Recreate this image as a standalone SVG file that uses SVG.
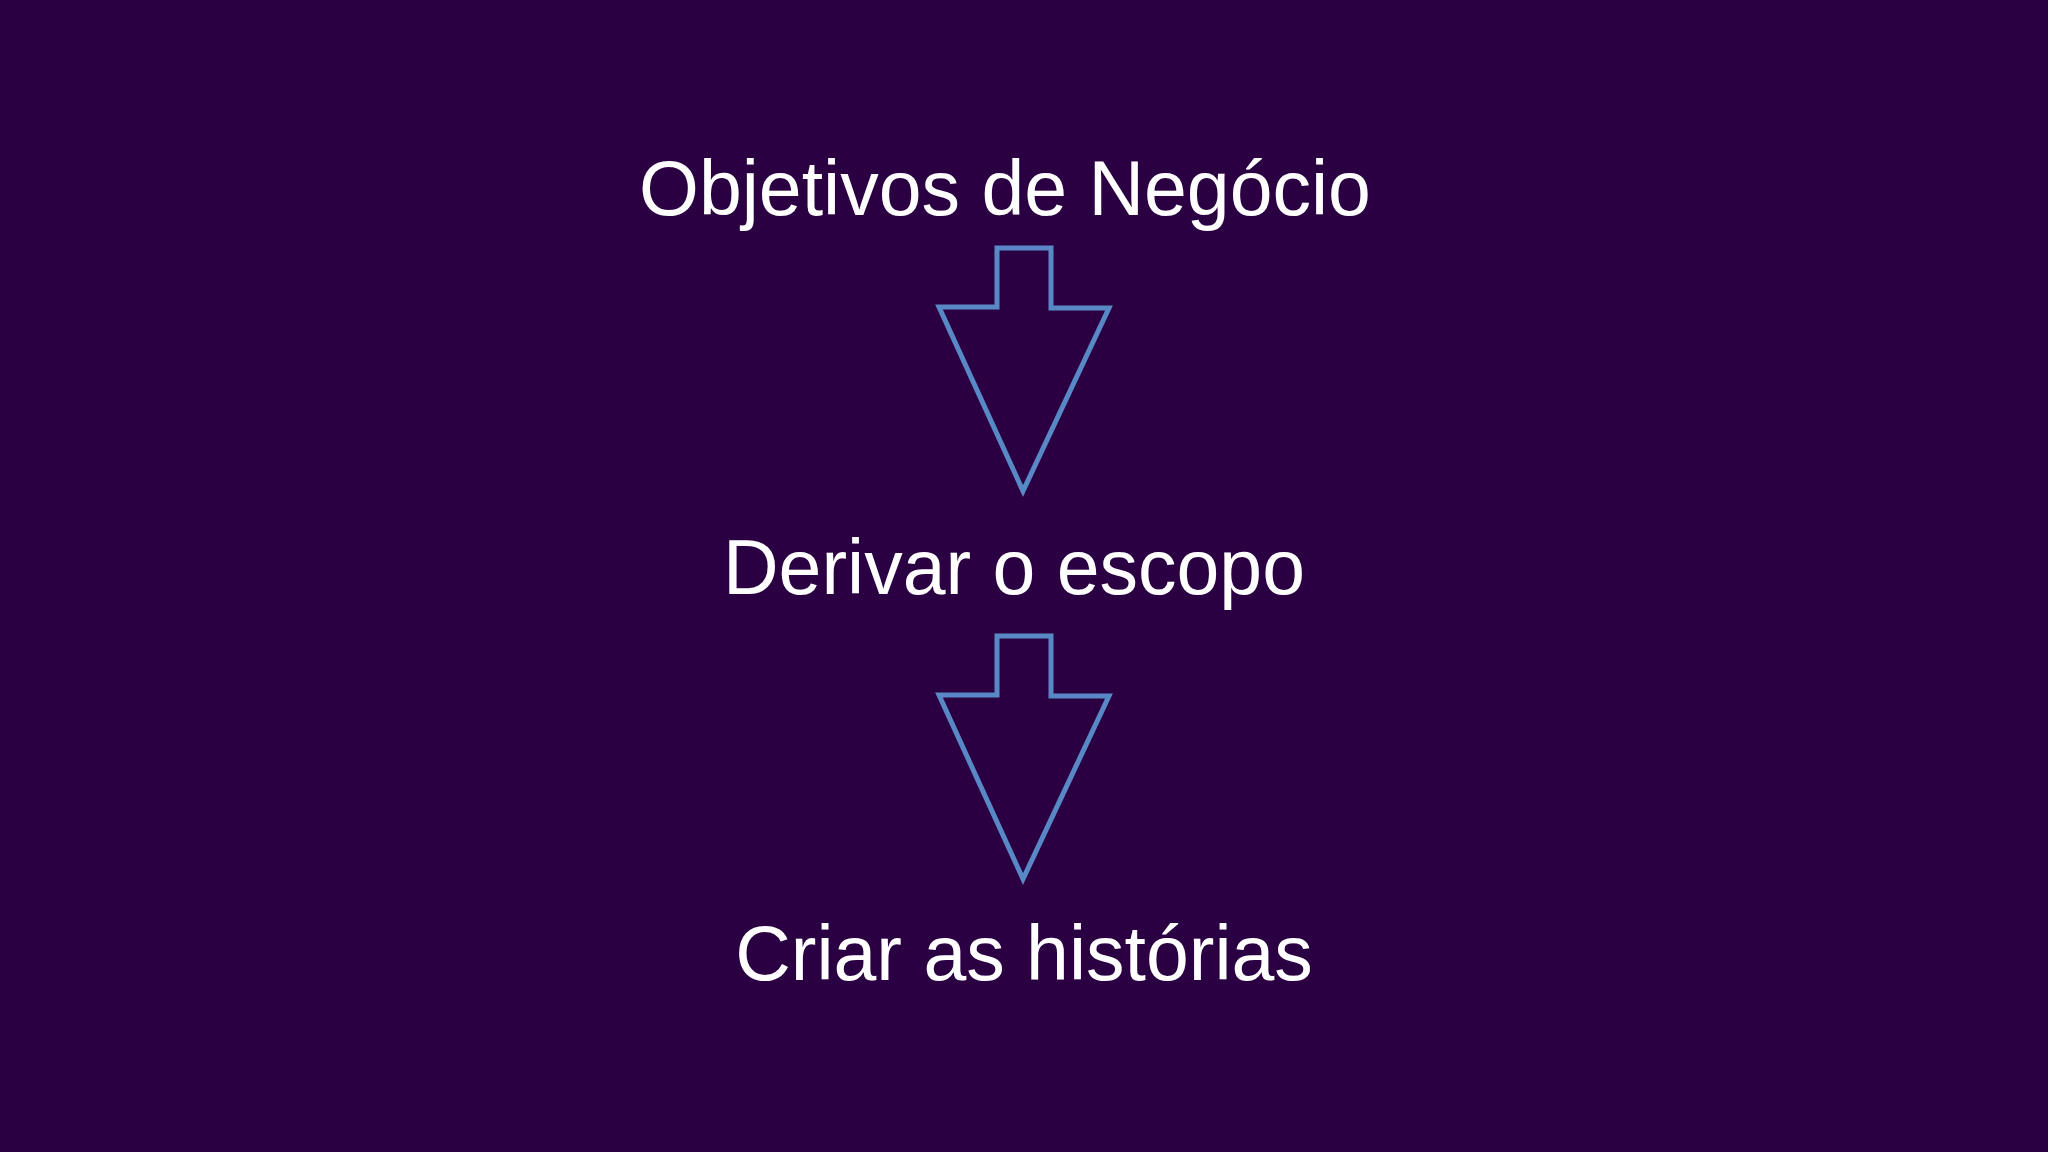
<svg xmlns="http://www.w3.org/2000/svg" width="2048" height="1152" viewBox="0 0 2048 1152">
  <style>
    .lbl { font-family: "Liberation Sans", Arial, sans-serif; font-size: 77px; fill: #ffffff; text-anchor: middle; }
    .arrow { fill: none; stroke: #5889c6; stroke-width: 5; stroke-linejoin: miter; }
  </style>
  <defs>
    <path id="blockArrow" d="M997,0 L1051,0 L1051,60 L1109,60 L1023,243 L939,59 L997,59 Z"/>
  </defs>
  <rect x="0" y="0" width="2048" height="1152" fill="#2a0042"/>
  <g id="node-objetivos">
    <text class="lbl" x="1005" y="215">Objetivos de Negócio</text>
  </g>
  <g id="node-derivar">
    <text class="lbl" x="1014" y="594">Derivar o escopo</text>
  </g>
  <g id="node-criar">
    <text class="lbl" x="1024" y="980">Criar as histórias</text>
  </g>
  <g id="connectors">
    <use href="#blockArrow" class="arrow" transform="translate(0,248)"/>
    <use href="#blockArrow" class="arrow" transform="translate(0,636)"/>
  </g>
</svg>
